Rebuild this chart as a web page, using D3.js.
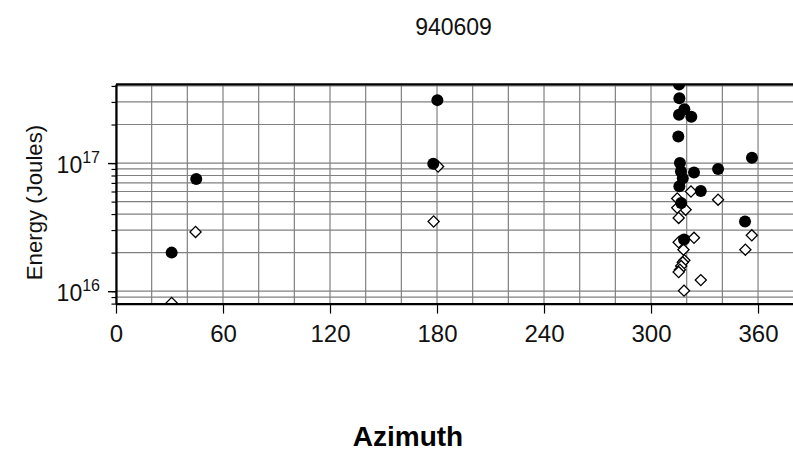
<!DOCTYPE html>
<html>
<head>
<meta charset="utf-8">
<script src="https://cdn.jsdelivr.net/npm/d3@7"></script>
<style>
  html, body { margin: 0; padding: 0; background: #fff; }
  svg { display: block; font-family: "Liberation Sans", Arial, Helvetica, sans-serif; }
</style>
</head>
<body>
<svg id="chart" width="793" height="452"></svg>
<script>
// Event 940609: energy versus azimuth per station
const title = "940609";
const xTickValues = [0, 60, 120, 180, 240, 300, 360];
const yMajorTicks = [1e16, 1e17];
const yTickExponents = ["16", "17"];

// filled circles
const filledAzimuth = [31.2, 45.0, 180.2, 177.9, 315.7, 315.9, 315.7, 318.7, 322.6, 315.3,
  356.6, 316.2, 337.6, 324.1, 316.8, 317.8, 315.9, 327.9, 316.9, 352.7, 318.5];
const filledEnergy = [2.0e16, 7.5e16, 3.1e17, 9.9e16, 4.1e17, 3.2e17, 2.38e17, 2.63e17, 2.3e17, 1.61e17,
  1.1e17, 1.0e17, 9.0e16, 8.45e16, 8.6e16, 7.6e16, 6.6e16, 6.05e16, 4.88e16, 3.5e16, 2.53e16];

// open diamonds
const openAzimuth = [31.2, 44.6, 180.6, 178.1, 322.4, 337.6, 314.7, 319.4, 314.7, 315.5,
  324.1, 356.5, 352.9, 315.5, 318.2, 318.7, 317.8, 316.9, 316.2, 315.5, 327.9, 318.5];
const openEnergy = [8.1e15, 2.9e16, 9.4e16, 3.5e16, 6.0e16, 5.18e16, 5.3e16, 4.33e16, 4.47e16, 3.73e16,
  2.61e16, 2.73e16, 2.11e16, 2.41e16, 2.11e16, 1.74e16, 1.68e16, 1.57e16, 1.47e16, 1.41e16, 1.22e16, 1.01e16];

const svg = d3.select("#chart");
const plotLeft = 116, plotRight = 793.7, plotTop = 84.3, plotBottom = 303.6;

const x = d3.scaleLinear().domain([0, 380]).range([plotLeft, plotRight]);
const y = d3.scaleLog().domain([8e15, 4.12e17]).range([plotBottom, plotTop]);

// minor log positions inside the domain
const yMinor = [];
for (let p = 15; p <= 17; p++) {
  for (let m = 1; m <= 9; m++) {
    const v = m * Math.pow(10, p);
    if (v >= y.domain()[0] && v <= y.domain()[1]) yMinor.push(v);
  }
}
const xGrid = d3.range(0, 381, 20);

// clip region for the plotting area
svg.append("defs").append("clipPath").attr("id", "plotClip")
  .append("rect").attr("x", plotLeft).attr("y", plotTop)
  .attr("width", plotRight - plotLeft).attr("height", plotBottom - plotTop);

// grid
const grid = svg.append("g").attr("stroke", "#808080").attr("stroke-width", 1.2);
grid.selectAll("line.v").data(xGrid).join("line").attr("class", "v")
  .attr("x1", d => x(d)).attr("x2", d => x(d)).attr("y1", plotTop).attr("y2", plotBottom);
grid.selectAll("line.h").data(yMinor).join("line").attr("class", "h")
  .attr("x1", plotLeft).attr("x2", plotRight).attr("y1", d => y(d)).attr("y2", d => y(d));

// points: open diamonds underneath, filled circles on top
const pts = svg.append("g").attr("clip-path", "url(#plotClip)");
const openData = openAzimuth.map((a, i) => ({ a, e: openEnergy[i] }));
const filledData = filledAzimuth.map((a, i) => ({ a, e: filledEnergy[i] }));
pts.selectAll("path.open").data(openData).join("path").attr("class", "open")
  .attr("d", d3.symbol().type(d3.symbolSquare).size(62))
  .attr("transform", d => `translate(${x(d.a)},${y(d.e)}) rotate(45)`)
  .attr("fill", "#fff").attr("stroke", "#000").attr("stroke-width", 1.3);
pts.selectAll("circle.filled").data(filledData).join("circle").attr("class", "filled")
  .attr("cx", d => x(d.a)).attr("cy", d => y(d.e)).attr("r", 6)
  .attr("fill", "#000");

// top frame line
svg.append("line").attr("x1", plotLeft).attr("x2", plotRight).attr("y1", plotTop).attr("y2", plotTop)
  .attr("stroke", "#000").attr("stroke-width", 2.2);

// x axis
const xAxis = svg.append("g").attr("transform", `translate(0,${plotBottom})`)
  .call(d3.axisBottom(x).tickValues(xTickValues).tickSize(10).tickSizeOuter(0).tickPadding(11));
xAxis.select(".domain").attr("stroke-width", 2.2);
xAxis.selectAll(".tick line").attr("stroke-width", 1.2);
xAxis.selectAll(".tick text").attr("font-size", 24).attr("fill", "#111")
  .attr("font-family", "'Liberation Sans', Arial, sans-serif");

// y axis: minor ticks
const yMinorAxis = svg.append("g").attr("transform", `translate(${plotLeft},0)`)
  .call(d3.axisLeft(y).tickValues(yMinor).tickSize(4.5).tickSizeOuter(0).tickFormat(() => ""));
yMinorAxis.select(".domain").attr("stroke-width", 2.2);
yMinorAxis.selectAll(".tick line").attr("stroke-width", 1.2);

// y axis: major ticks with power-of-ten labels
const yMajorAxis = svg.append("g").attr("transform", `translate(${plotLeft},0)`)
  .call(d3.axisLeft(y).tickValues(yMajorTicks).tickSize(8).tickSizeOuter(0).tickFormat(() => ""));
yMajorAxis.select(".domain").remove();
yMajorAxis.selectAll(".tick line").attr("stroke-width", 1.4);
yMajorAxis.selectAll(".tick").each(function (d, i) {
  const t = d3.select(this).append("text")
    .attr("x", -16).attr("y", 9.5).attr("text-anchor", "end")
    .attr("fill", "#111").attr("font-size", 23);
  t.append("tspan").text("10");
  t.append("tspan").attr("dy", -10).attr("font-size", 16).text(yTickExponents[i]);
});

// titles
svg.append("text").attr("x", 453.5).attr("y", 35).attr("text-anchor", "middle")
  .attr("font-size", 23).attr("fill", "#111").text(title);
svg.append("text").attr("x", 408).attr("y", 446).attr("text-anchor", "middle")
  .attr("font-size", 28).attr("font-weight", "bold").attr("fill", "#000").text("Azimuth");
svg.append("text").attr("transform", "translate(42,202.5) rotate(-90)").attr("text-anchor", "middle")
  .attr("font-size", 22.2).attr("fill", "#111").text("Energy (Joules)");
</script>
</body>
</html>
